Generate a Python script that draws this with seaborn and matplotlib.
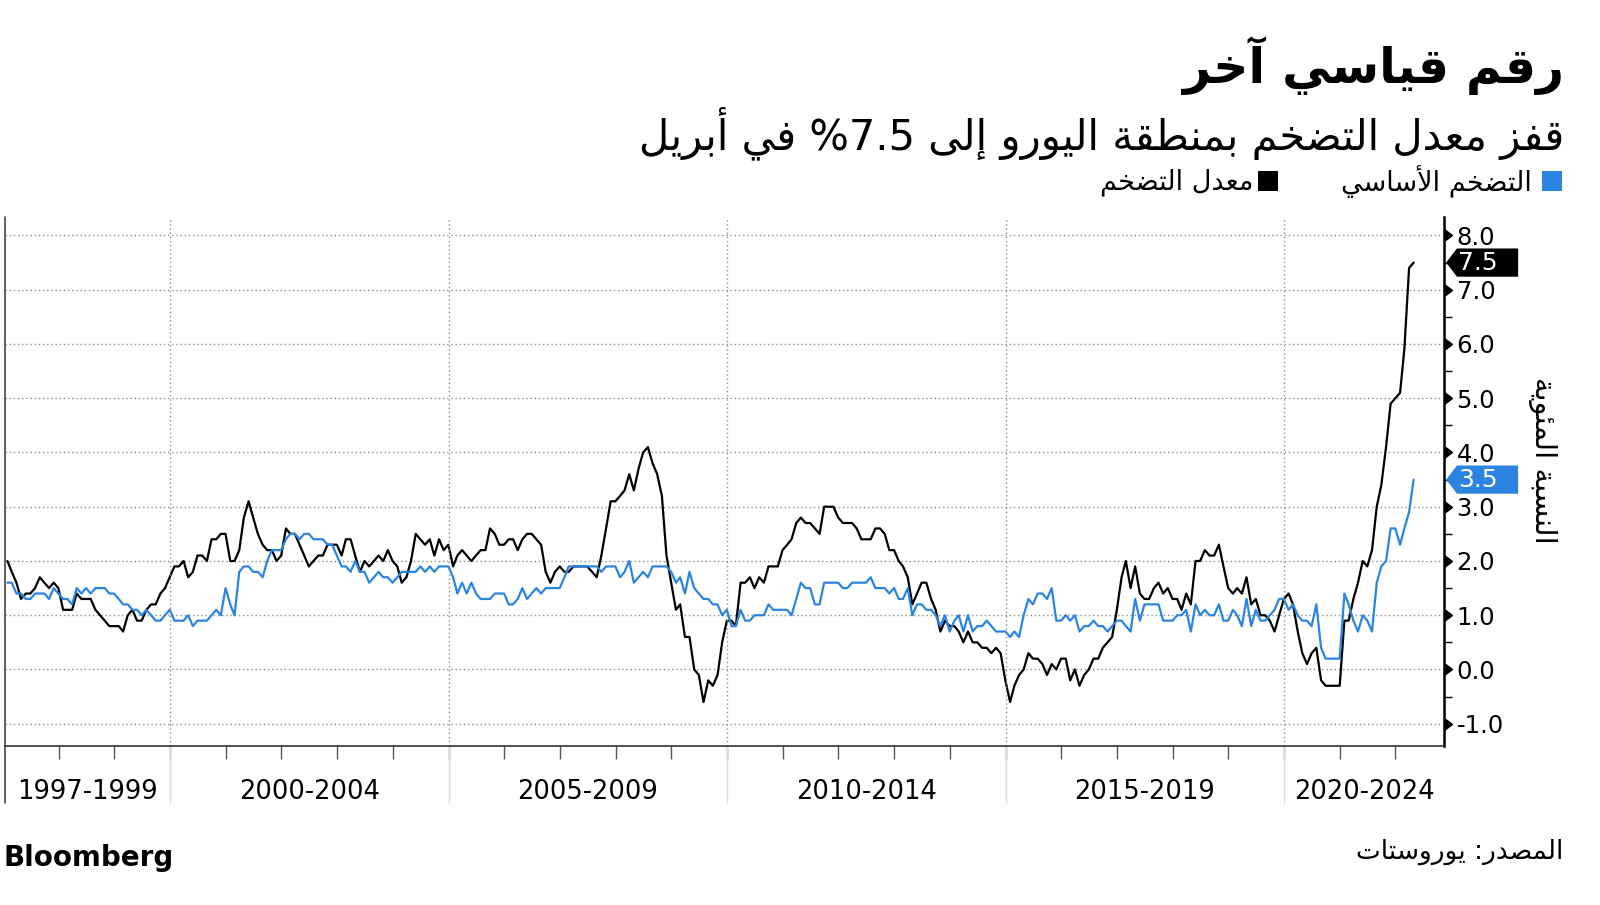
import re
import matplotlib
matplotlib.use("Agg")
import matplotlib.pyplot as plt
import matplotlib.transforms as mtransforms
from matplotlib.patches import Polygon, Rectangle
from matplotlib import markers as mmarkers
import pandas as pd
import seaborn as sns

# Euro area inflation, annual % change, monthly Jan 1997 - Apr 2022
headline = [
    2.0, 1.8, 1.6, 1.3, 1.4, 1.4, 1.5, 1.7, 1.6, 1.5, 1.6, 1.5,   # 1997
    1.1, 1.1, 1.1, 1.4, 1.3, 1.3, 1.3, 1.1, 1.0, 0.9, 0.8, 0.8,   # 1998
    0.8, 0.7, 1.0, 1.1, 0.9, 0.9, 1.1, 1.2, 1.2, 1.4, 1.5, 1.7,   # 1999
    1.9, 1.9, 2.0, 1.7, 1.8, 2.1, 2.1, 2.0, 2.4, 2.4, 2.5, 2.5,   # 2000
    2.0, 2.0, 2.2, 2.8, 3.1, 2.8, 2.5, 2.3, 2.2, 2.2, 2.0, 2.1,   # 2001
    2.6, 2.5, 2.5, 2.3, 2.1, 1.9, 2.0, 2.1, 2.1, 2.3, 2.3, 2.3,   # 2002
    2.1, 2.4, 2.4, 2.1, 1.8, 2.0, 1.9, 2.0, 2.1, 2.0, 2.2, 2.0,   # 2003
    1.9, 1.6, 1.7, 2.0, 2.5, 2.4, 2.3, 2.4, 2.1, 2.4, 2.2, 2.3,   # 2004
    1.9, 2.1, 2.2, 2.1, 2.0, 2.1, 2.2, 2.2, 2.6, 2.5, 2.3, 2.3,   # 2005
    2.4, 2.4, 2.2, 2.4, 2.5, 2.5, 2.4, 2.3, 1.8, 1.6, 1.8, 1.9,   # 2006
    1.8, 1.8, 1.9, 1.9, 1.9, 1.9, 1.8, 1.7, 2.1, 2.6, 3.1, 3.1,   # 2007
    3.2, 3.3, 3.6, 3.3, 3.7, 4.0, 4.1, 3.8, 3.6, 3.2, 2.1, 1.6,   # 2008
    1.1, 1.2, 0.6, 0.6, 0.0, -0.1, -0.6, -0.2, -0.3, -0.1, 0.5, 0.9,  # 2009
    0.9, 0.8, 1.6, 1.6, 1.7, 1.5, 1.7, 1.6, 1.9, 1.9, 1.9, 2.2,   # 2010
    2.3, 2.4, 2.7, 2.8, 2.7, 2.7, 2.6, 2.5, 3.0, 3.0, 3.0, 2.8,   # 2011
    2.7, 2.7, 2.7, 2.6, 2.4, 2.4, 2.4, 2.6, 2.6, 2.5, 2.2, 2.2,   # 2012
    2.0, 1.9, 1.7, 1.2, 1.4, 1.6, 1.6, 1.3, 1.1, 0.7, 0.9, 0.8,   # 2013
    0.8, 0.7, 0.5, 0.7, 0.5, 0.5, 0.4, 0.4, 0.3, 0.4, 0.3, -0.2,  # 2014
    -0.6, -0.3, -0.1, 0.0, 0.3, 0.2, 0.2, 0.1, -0.1, 0.1, 0.0, 0.2,  # 2015
    0.2, -0.2, 0.0, -0.3, -0.1, 0.0, 0.2, 0.2, 0.4, 0.5, 0.6, 1.1,  # 2016
    1.7, 2.0, 1.5, 1.9, 1.4, 1.3, 1.3, 1.5, 1.6, 1.4, 1.5, 1.3,   # 2017
    1.3, 1.1, 1.4, 1.2, 2.0, 2.0, 2.2, 2.1, 2.1, 2.3, 1.9, 1.5,   # 2018
    1.4, 1.5, 1.4, 1.7, 1.2, 1.3, 1.0, 1.0, 0.9, 0.7, 1.0, 1.3,   # 2019
    1.4, 1.2, 0.7, 0.3, 0.1, 0.3, 0.4, -0.2, -0.3, -0.3, -0.3, -0.3,  # 2020
    0.9, 0.9, 1.3, 1.6, 2.0, 1.9, 2.2, 3.0, 3.4, 4.1, 4.9, 5.0,   # 2021
    5.1, 5.9, 7.4, 7.5,                                           # 2022
]

core = [
    1.6, 1.6, 1.4, 1.4, 1.3, 1.3, 1.4, 1.4, 1.4, 1.3, 1.5, 1.4,   # 1997
    1.3, 1.3, 1.2, 1.5, 1.4, 1.5, 1.4, 1.5, 1.5, 1.5, 1.4, 1.4,   # 1998
    1.3, 1.2, 1.2, 1.1, 1.1, 1.0, 1.1, 1.0, 0.9, 0.9, 1.0, 1.1,   # 1999
    0.9, 0.9, 0.9, 1.0, 0.8, 0.9, 0.9, 0.9, 1.0, 1.1, 1.0, 1.5,   # 2000
    1.2, 1.0, 1.8, 1.9, 1.9, 1.8, 1.8, 1.7, 2.0, 2.2, 2.2, 2.2,   # 2001
    2.4, 2.5, 2.5, 2.4, 2.5, 2.5, 2.4, 2.4, 2.4, 2.3, 2.3, 2.1,   # 2002
    1.9, 1.9, 1.8, 2.0, 1.8, 1.8, 1.6, 1.7, 1.8, 1.7, 1.7, 1.6,   # 2003
    1.7, 1.8, 1.8, 1.8, 1.8, 1.9, 1.8, 1.9, 1.8, 1.9, 1.9, 1.9,   # 2004
    1.7, 1.4, 1.6, 1.4, 1.6, 1.4, 1.3, 1.3, 1.3, 1.4, 1.4, 1.4,   # 2005
    1.2, 1.2, 1.3, 1.5, 1.3, 1.4, 1.5, 1.4, 1.5, 1.5, 1.5, 1.5,   # 2006
    1.7, 1.9, 1.9, 1.9, 1.9, 1.9, 1.9, 1.9, 1.8, 1.9, 1.9, 1.9,   # 2007
    1.7, 1.8, 2.0, 1.6, 1.7, 1.8, 1.7, 1.9, 1.9, 1.9, 1.9, 1.8,   # 2008
    1.6, 1.7, 1.4, 1.8, 1.5, 1.4, 1.3, 1.3, 1.2, 1.2, 1.0, 1.1,   # 2009
    0.8, 0.8, 1.1, 0.9, 0.9, 1.0, 1.0, 1.0, 1.2, 1.1, 1.1, 1.1,   # 2010
    1.1, 1.0, 1.3, 1.6, 1.5, 1.5, 1.2, 1.2, 1.6, 1.6, 1.6, 1.6,   # 2011
    1.5, 1.5, 1.6, 1.6, 1.6, 1.6, 1.7, 1.5, 1.5, 1.5, 1.4, 1.5,   # 2012
    1.3, 1.3, 1.5, 1.0, 1.2, 1.2, 1.1, 1.1, 1.0, 0.8, 1.0, 0.7,   # 2013
    0.9, 1.0, 0.7, 1.0, 0.7, 0.8, 0.8, 0.9, 0.8, 0.7, 0.7, 0.7,   # 2014
    0.6, 0.7, 0.6, 1.0, 1.3, 1.2, 1.4, 1.4, 1.3, 1.5, 0.9, 0.9,   # 2015
    1.0, 0.9, 1.0, 0.7, 0.8, 0.8, 0.9, 0.8, 0.8, 0.7, 0.8, 0.9,   # 2016
    0.9, 0.8, 0.7, 1.3, 0.9, 1.2, 1.2, 1.2, 1.2, 0.9, 0.9, 0.9,   # 2017
    1.0, 1.0, 1.1, 0.7, 1.2, 1.0, 1.1, 1.0, 1.0, 1.2, 0.9, 0.9,   # 2018
    1.1, 1.0, 0.8, 1.3, 0.8, 1.1, 0.9, 0.9, 1.0, 1.1, 1.3, 1.3,   # 2019
    1.1, 1.2, 1.0, 0.9, 0.9, 0.8, 1.2, 0.4, 0.2, 0.2, 0.2, 0.2,   # 2020
    1.4, 1.2, 0.9, 0.7, 1.0, 0.9, 0.7, 1.6, 1.9, 2.0, 2.6, 2.6,   # 2021
    2.3, 2.6, 2.9, 3.5,                                           # 2022
]

period_starts = ["1997-01-01", "2000-01-01", "2005-01-01", "2010-01-01",
                 "2015-01-01", "2020-01-01"]
period_labels = ["1997-1999", "2000-2004", "2005-2009", "2010-2014",
                 "2015-2019", "2020-2024"]
y_ticks = [-1.0, 0.0, 1.0, 2.0, 3.0, 4.0, 5.0, 6.0, 7.0, 8.0]

title = "رقم قياسي آخر"
subtitle = "قفز معدل التضخم بمنطقة اليورو إلى 7.5% في أبريل"
label_core = "التضخم الأساسي"
label_headline = "معدل التضخم"
y_label = "النسبة المئوية"
source = "المصدر: يوروستات"

BLUE = "#2B85E0"
GRID = "#8C8C8C"

# --- minimal Arabic shaping (matplotlib draws glyphs left to right, unjoined) ---
DUAL = {"ئ": 0xFE89, "ب": 0xFE8F, "ت": 0xFE95, "ث": 0xFE99, "ج": 0xFE9D,
        "ح": 0xFEA1, "خ": 0xFEA5, "س": 0xFEB1, "ش": 0xFEB5, "ص": 0xFEB9,
        "ض": 0xFEBD, "ط": 0xFEC1, "ظ": 0xFEC5, "ع": 0xFEC9, "غ": 0xFECD,
        "ف": 0xFED1, "ق": 0xFED5, "ك": 0xFED9, "ل": 0xFEDD, "م": 0xFEE1,
        "ن": 0xFEE5, "ه": 0xFEE9, "ي": 0xFEF1}
RIGHT = {"آ": 0xFE81, "أ": 0xFE83, "ؤ": 0xFE85, "إ": 0xFE87, "ا": 0xFE8D,
         "ة": 0xFE93, "د": 0xFEA9, "ذ": 0xFEAB, "ر": 0xFEAD, "ز": 0xFEAF,
         "و": 0xFEED, "ى": 0xFEEF}
LAM_ALEF = {"آ": 0xFEF5, "أ": 0xFEF7, "إ": 0xFEF9, "ا": 0xFEFB}


def shape(text):
    toks, i = [], 0
    while i < len(text):
        if text[i] == "ل" and i + 1 < len(text) and text[i + 1] in LAM_ALEF:
            toks.append(("LA", text[i + 1]))
            i += 2
        else:
            toks.append(("C", text[i]))
            i += 1

    def links_next(t):
        return t[0] == "C" and t[1] in DUAL

    def links_prev(t):
        return t[0] == "LA" or t[1] in DUAL or t[1] in RIGHT

    out = []
    for k, t in enumerate(toks):
        p = k > 0 and links_next(toks[k - 1]) and links_prev(t)
        q = k + 1 < len(toks) and links_next(t) and links_prev(toks[k + 1])
        kind, c = t
        if kind == "LA":
            out.append(chr(LAM_ALEF[c] + p))
        elif c in DUAL:
            out.append(chr(DUAL[c] + (3 if p and q else 1 if p else 2 if q else 0)))
        elif c in RIGHT:
            out.append(chr(RIGHT[c] + p))
        else:
            out.append(c)
    return "".join(out)


def ar(text):
    vis = shape(text)[::-1]
    return re.sub(r"[0-9.]+", lambda m: m.group(0)[::-1], vis)


sns.set_style("white")
plt.rcParams["font.family"] = ["DejaVu Sans"]
plt.rcParams["text.color"] = "black"
plt.rcParams["xtick.color"] = "black"
plt.rcParams["ytick.color"] = "black"

dates = pd.date_range("1997-01-31", periods=len(headline), freq="ME")
df = pd.DataFrame({
    "date": list(dates) * 2,
    "value": headline + core,
    "series": ["headline"] * len(headline) + ["core"] * len(core),
})

W, H = 1600, 905
fig = plt.figure(figsize=(16, 9.05), dpi=100)
ax = fig.add_axes([5 / W, 1 - 746 / H, (1444 - 5) / W, (746 - 217) / H])

sns.lineplot(data=df, x="date", y="value", hue="series",
             hue_order=["headline", "core"],
             palette={"headline": "black", "core": BLUE},
             linewidth=1.6, legend=False, ax=ax)

x0, x1 = pd.Timestamp("1997-01-15"), pd.Timestamp("2022-11-15")
ax.set_xlim(x0, x1)
ax.set_ylim(-1.41, 8.34)
ax.set_xlabel("")
ax.set_ylabel("")

# y axis on the right
ax.yaxis.tick_right()
ax.set_yticks(y_ticks)
ax.set_yticklabels([f"{v:.1f}" for v in y_ticks])
ax.set_yticks([v + 0.5 for v in y_ticks[:-1]], minor=True)
ax.tick_params(axis="y", which="major", right=True, left=False, length=8,
               width=1, pad=1, labelsize=17.5, colors="black")
ax.tick_params(axis="y", which="minor", right=True, left=False, length=6,
               width=1, colors="black")
for t in ax.yaxis.get_major_ticks():
    t.tick2line.set_marker(mmarkers.CARETRIGHTBASE)
ax.grid(axis="y", which="major", color=GRID, linestyle=(0, (1, 2)), linewidth=1)

# x axis: period labels centred between boundaries, year ticks below
bounds = [pd.Timestamp(s) for s in period_starts] + [x1]
bounds[0] = x0
centers = [bounds[i] + (bounds[i + 1] - bounds[i]) / 2 for i in range(len(period_labels))]
ax.set_xticks(centers)
ax.set_xticklabels(period_labels)
ax.tick_params(axis="x", which="major", length=0, pad=24, labelsize=18.5,
               colors="black")
years = pd.date_range("1998-01-01", "2022-01-01", freq="YS")
ax.set_xticks(years, minor=True)
ax.tick_params(axis="x", which="minor", bottom=True, length=9, width=1,
               color="#555555", direction="out")

below = mtransforms.blended_transform_factory(ax.transData, ax.transAxes)
for s in period_starts[1:]:
    ax.axvline(pd.Timestamp(s), color=GRID, linestyle=(0, (1, 2)), linewidth=1)
    ax.plot([pd.Timestamp(s)] * 2, [0, -0.108], transform=below,
            color="#DDDDDD", linewidth=1, clip_on=False)
ax.plot([0, 0], [1, -0.108], transform=ax.transAxes, color="#444444",
        linewidth=1.2, clip_on=False)

for side in ["top", "left"]:
    ax.spines[side].set_visible(False)
ax.spines["bottom"].set_color("#333333")
ax.spines["bottom"].set_linewidth(1.2)
ax.spines["right"].set_color("black")
ax.spines["right"].set_linewidth(1.8)

# last-value tags
tag = mtransforms.blended_transform_factory(ax.transAxes, ax.transData)
tip, left, right, half = 1.0015, 1.009, 1.0515, 0.26
for vals, color in [(headline, "black"), (core, BLUE)]:
    v = vals[-1]
    ax.add_patch(Polygon([(tip, v), (left, v + half), (right, v + half),
                          (right, v - half), (left, v - half)],
                         closed=True, transform=tag, facecolor=color,
                         edgecolor="none", clip_on=False))
    ax.text(left + 0.0005, v, f"{v:.1f}", transform=tag, ha="left", va="center",
            color="white", fontsize=18)

# titles, legend, labels
fig.text(1564 / W, 1 - 66 / H, ar(title), ha="right", va="center",
         fontsize=35, fontweight="bold")
fig.text(1564 / W, 1 - 133 / H, ar(subtitle), ha="right", va="center",
         fontsize=30)

fig.patches.append(Rectangle((1542 / W, 1 - 191 / H), 20 / W, 20 / H,
                             transform=fig.transFigure, facecolor=BLUE,
                             edgecolor="none"))
fig.text(1532 / W, 1 - 182 / H, ar(label_core), ha="right", va="center",
         fontsize=19.5)
fig.patches.append(Rectangle((1258 / W, 1 - 191 / H), 20 / W, 20 / H,
                             transform=fig.transFigure, facecolor="black",
                             edgecolor="none"))
fig.text(1253 / W, 1 - 182 / H, ar(label_headline), ha="right", va="center",
         fontsize=19.5)

fig.text(1543 / W, 1 - 460 / H, ar(y_label), ha="center", va="center",
         rotation=270, fontsize=21)

fig.text(1563 / W, 1 - 852 / H, ar(source), ha="right", va="center",
         fontsize=19)
fig.text(3 / W, 1 - 858 / H, "Bloomberg", ha="left", va="center",
         fontsize=20, fontweight="bold")

fig.savefig("out.png", dpi=100, facecolor="white")
